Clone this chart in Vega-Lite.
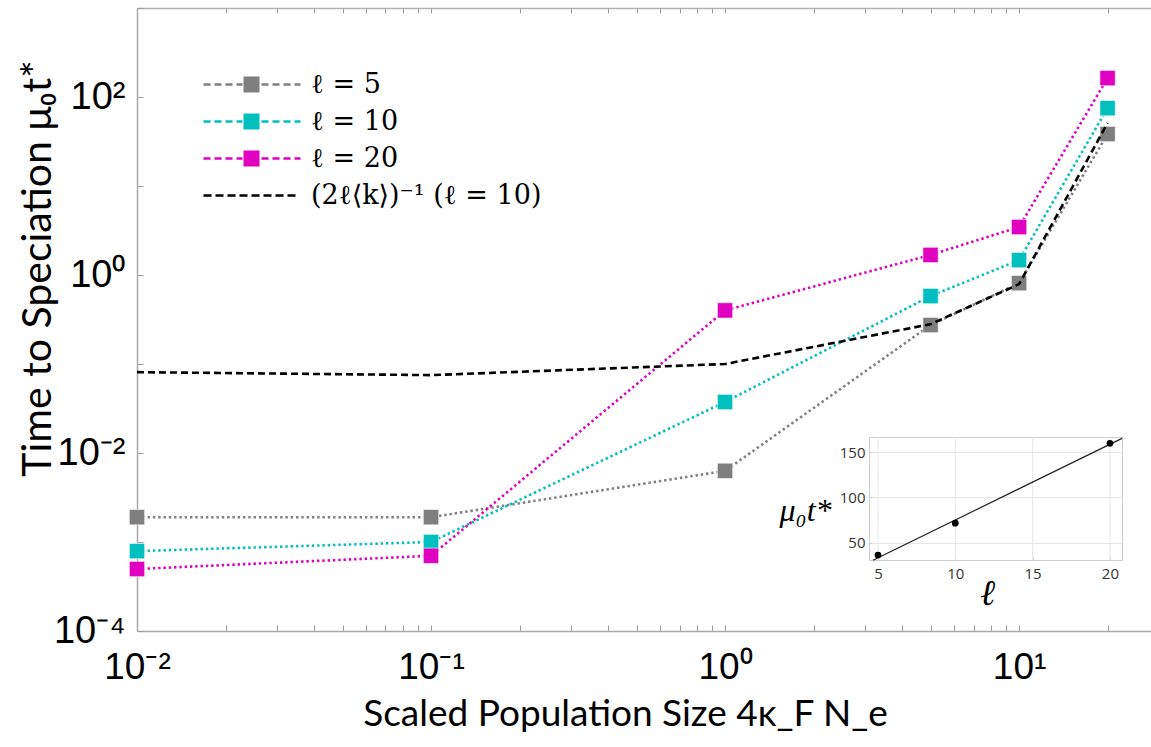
{
  "$schema": "https://vega.github.io/schema/vega-lite/v6.json",
  "width": 1014,
  "height": 623,
  "autosize": {"type": "none"},
  "padding": {"left": 137, "top": 8, "right": 0, "bottom": 116},
  "background": "white",
  "config": {
    "view": {"stroke": null},
    "axis": {"labelFlush": false, "labelOverlap": false, "grid": false}
  },
  "datasets": {
    "main": [
      {"N": 0.01, "t": 0.0019, "series": "ℓ = 5"},
      {"N": 0.1, "t": 0.0019, "series": "ℓ = 5"},
      {"N": 1, "t": 0.0063, "series": "ℓ = 5"},
      {"N": 5, "t": 0.274, "series": "ℓ = 5"},
      {"N": 10, "t": 0.81, "series": "ℓ = 5"},
      {"N": 20, "t": 38.4, "series": "ℓ = 5"},
      {"N": 0.01, "t": 0.00079, "series": "ℓ = 10"},
      {"N": 0.1, "t": 0.001, "series": "ℓ = 10"},
      {"N": 1, "t": 0.0374, "series": "ℓ = 10"},
      {"N": 5, "t": 0.58, "series": "ℓ = 10"},
      {"N": 10, "t": 1.47, "series": "ℓ = 10"},
      {"N": 20, "t": 75, "series": "ℓ = 10"},
      {"N": 0.01, "t": 0.000497, "series": "ℓ = 20"},
      {"N": 0.1, "t": 0.0007, "series": "ℓ = 20"},
      {"N": 1, "t": 0.4, "series": "ℓ = 20"},
      {"N": 5, "t": 1.68, "series": "ℓ = 20"},
      {"N": 10, "t": 3.46, "series": "ℓ = 20"},
      {"N": 20, "t": 163, "series": "ℓ = 20"}
    ],
    "theory": [
      {"N": 0.01, "t": 0.081, "series": "(2ℓ⟨k⟩)⁻¹ (ℓ = 10)"},
      {"N": 0.1, "t": 0.075, "series": "(2ℓ⟨k⟩)⁻¹ (ℓ = 10)"},
      {"N": 1, "t": 0.1, "series": "(2ℓ⟨k⟩)⁻¹ (ℓ = 10)"},
      {"N": 5, "t": 0.28, "series": "(2ℓ⟨k⟩)⁻¹ (ℓ = 10)"},
      {"N": 10, "t": 0.79, "series": "(2ℓ⟨k⟩)⁻¹ (ℓ = 10)"},
      {"N": 20, "t": 51, "series": "(2ℓ⟨k⟩)⁻¹ (ℓ = 10)"}
    ],
    "inset": [
      {"l": 5, "t": 36.8},
      {"l": 10, "t": 71.8},
      {"l": 20, "t": 159.6}
    ],
    "fit": [
      {"l": 4.68, "t": 31.0},
      {"l": 20.78, "t": 165.0}
    ],
    "insetgrid": [
      {"l": 5}, {"l": 10}, {"l": 15}, {"l": 20}
    ]
  },
  "layer": [
    {
      "layer": [
        {
          "data": {"name": "main"},
          "mark": {"type": "line", "strokeDash": [2.4, 2.9], "strokeWidth": 2.6},
          "encoding": {
            "x": {
              "field": "N", "type": "quantitative",
              "scale": {"type": "log", "domain": [0.01, 28.1], "nice": false},
              "axis": {
                "orient": "bottom",
                "values": [0.01,0.02,0.03,0.04,0.05,0.06,0.07,0.08,0.09,0.1,0.2,0.3,0.4,0.5,0.6,0.7,0.8,0.9,1,2,3,4,5,6,7,8,9,10,20],
                "labelExpr": "datum.value == 0.01 ? '10⁻²' : datum.value == 0.1 ? '10⁻¹' : datum.value == 1 ? '10⁰' : datum.value == 10 ? '10¹' : ''",
                "tickSize": -6, "tickColor": "#9a9a9a", "tickWidth": 1,
                "domainColor": "#a8a8a8", "domainWidth": 1.5,
                "labelFont": "Liberation Sans Narrow, Liberation Sans", "labelFontSize": 37, "labelColor": "black",
                "labelPadding": 24,
                "title": "Scaled Population Size 4κ_F N_e",
                "titleFont": "Lato", "titleFontSize": 37, "titleFontWeight": "normal", "titleColor": "black",
                "titleX": 488, "titleY": 83, "titleBaseline": "middle", "titleAlign": "center"
              }
            },
            "y": {
              "field": "t", "type": "quantitative",
              "scale": {"type": "log", "domain": [0.0001, 1000], "nice": false},
              "axis": {
                "orient": "left",
                "values": [0.0001, 0.001, 0.01, 0.1, 1, 10, 100, 1000],
                "labelExpr": "datum.value == 100 ? '10²' : datum.value == 1 ? '10⁰' : datum.value == 0.01 ? '10⁻²' : datum.value == 0.0001 ? '10⁻⁴' : ''",
                "tickSize": -6, "tickColor": "#9a9a9a",
                "domainColor": "#a8a8a8", "domainWidth": 1.5,
                "labelFont": "Liberation Sans", "labelFontSize": 38, "labelColor": "black",
                "labelPadding": 18,
                "title": "Time to Speciation   μ₀t*",
                "titleFont": "Lato", "titleFontSize": 41, "titleFontWeight": "normal", "titleColor": "black",
                "titleX": -99, "titleY": 260, "titleAngle": -90, "titleBaseline": "middle", "titleAlign": "center"
              }
            },
            "color": {
              "field": "series", "type": "nominal",
              "scale": {
                "domain": ["ℓ = 5", "ℓ = 10", "ℓ = 20", "(2ℓ⟨k⟩)⁻¹ (ℓ = 10)"],
                "range": ["#7f7f7f", "#00bfbf", "#e000c0", "#000000"]
              },
              "legend": {
                "orient": "none", "legendX": 53, "legendY": 63,
                "title": null, "padding": 0,
                "symbolType": "M0,-1.3h7v2.6h-7z M11,-1.3h7v2.6h-7z M22,-1.3h7v2.6h-7z M33,-1.3h6v2.6h-6z M40,-8h16v16h-16z M58,-1.3h7v2.6h-7z M69,-1.3h7v2.6h-7z M80,-1.3h7v2.6h-7z M91,-1.3h6v2.6h-6z",
                "symbolSize": 4, "symbolStrokeWidth": 0, "symbolOpacity": 1,
                "labelFont": "DejaVu Serif", "labelFontSize": 27, "labelColor": "black",
                "labelOffset": 94, "rowPadding": 9, "labelLimit": 400,
                "encode": {
                  "symbols": {
                    "update": {
                      "shape": [
                        {"test": "datum.value === '(2ℓ⟨k⟩)⁻¹ (ℓ = 10)'", "value": "M0,-1.3h8v2.6h-8z M12,-1.3h8v2.6h-8z M24,-1.3h8v2.6h-8z M36,-1.3h8v2.6h-8z M48,-1.3h8v2.6h-8z M60,-1.3h8v2.6h-8z M72,-1.3h8v2.6h-8z M84,-1.3h8v2.6h-8z"},
                        {"value": "M0,-1.3h7v2.6h-7z M11,-1.3h7v2.6h-7z M22,-1.3h7v2.6h-7z M33,-1.3h6v2.6h-6z M40,-8h16v16h-16z M58,-1.3h7v2.6h-7z M69,-1.3h7v2.6h-7z M80,-1.3h7v2.6h-7z M91,-1.3h6v2.6h-6z"}
                      ],
                      "fill": [
                        {"test": "datum.value === 'ℓ = 10'", "value": "#00b0f0"},
                        {"test": "datum.value === 'ℓ = 5'", "value": "#808080"},
                        {"test": "datum.value === 'ℓ = 20'", "value": "#e600b4"},
                        {"value": "#000000"}
                      ],
                      "stroke": {"value": "transparent"},
                      "opacity": {"value": 1},
                      "fillOpacity": {"value": 1}
                    }
                  }
                }
              }
            }
          }
        },
        {
          "data": {"name": "main"},
          "mark": {"type": "point", "shape": "square", "filled": true, "size": 235, "opacity": 1, "stroke": "white", "strokeWidth": 0.6},
          "encoding": {
            "x": {"field": "N", "type": "quantitative", "axis": null},
            "y": {"field": "t", "type": "quantitative"},
            "color": {"field": "series", "type": "nominal"}
          }
        },
        {
          "data": {"name": "theory"},
          "mark": {"type": "line", "strokeDash": [7, 4], "strokeWidth": 2.6},
          "encoding": {
            "x": {
              "field": "N", "type": "quantitative",
              "axis": {
                "orient": "top",
                "values": [0.01,0.02,0.03,0.04,0.05,0.06,0.07,0.08,0.09,0.1,0.2,0.3,0.4,0.5,0.6,0.7,0.8,0.9,1,2,3,4,5,6,7,8,9,10,20],
                "labels": false, "tickSize": -5, "tickColor": "#9a9a9a",
                "domainColor": "#b0b0b0", "domainWidth": 1.5, "title": null
              }
            },
            "y": {"field": "t", "type": "quantitative"},
            "color": {"field": "series", "type": "nominal"}
          }
        }
      ],
      "resolve": {"axis": {"x": "independent"}}
    },
    {
      "layer": [
        {
          "data": {"name": "insetgrid"},
          "mark": {"type": "rule", "color": "#e8e8e8", "strokeWidth": 1},
          "encoding": {
            "x": {
              "field": "l", "type": "quantitative",
              "scale": {"domain": [4.42, 20.78], "range": [732, 985], "nice": false, "zero": false},
              "axis": {
                "orient": "bottom", "offset": -71,
                "values": [5, 10, 15, 20],
                "grid": false,
                "tickSize": -3, "tickColor": "#cccccc",
                "domainColor": "#cfcfcf",
                "labelFont": "Open Sans", "labelFontSize": 15, "labelColor": "#333333", "labelPadding": 9,
                "title": "ℓ", "titleFont": "Liberation Serif", "titleFontStyle": "italic", "titleFontSize": 36,
                "titleFontWeight": "normal", "titleColor": "black",
                "titleX": 850, "titleY": 33, "titleBaseline": "middle", "titleAlign": "center"
              }
            },
            "y": {
              "datum": 31.3, "type": "quantitative",
              "scale": {"domain": [31.3, 166.5], "range": [552, 429], "nice": false, "zero": false},
              "axis": {
                "orient": "left", "offset": -732,
                "values": [50, 100, 150],
                "grid": true, "gridColor": "#e6e6e6",
                "tickSize": -3, "tickColor": "#cccccc",
                "domainColor": "#cfcfcf",
                "labelFont": "Open Sans", "labelFontSize": 15, "labelColor": "#333333", "labelPadding": 7,
                "title": "μ₀t*", "titleFont": "Liberation Serif", "titleFontStyle": "italic", "titleFontSize": 32,
                "titleFontWeight": "normal", "titleColor": "black", "titleAngle": 0,
                "titleX": -64, "titleY": 502, "titleBaseline": "middle", "titleAlign": "center"
              }
            },
            "y2": {"datum": 166.5}
          }
        },
        {
          "data": {"name": "fit"},
          "mark": {"type": "line", "color": "#222222", "strokeWidth": 1.2},
          "encoding": {
            "x": {"field": "l", "type": "quantitative", "axis": null},
            "y": {"field": "t", "type": "quantitative", "axis": null}
          }
        },
        {
          "data": {"name": "inset"},
          "mark": {"type": "point", "shape": "circle", "filled": true, "size": 45, "color": "black", "opacity": 1},
          "encoding": {
            "x": {
              "field": "l", "type": "quantitative",
              "axis": {"orient": "top", "offset": -429, "labels": false, "ticks": false, "grid": false, "domainColor": "#cfcfcf", "title": null}
            },
            "y": {
              "field": "t", "type": "quantitative",
              "axis": {"orient": "right", "offset": -29, "labels": false, "ticks": false, "grid": false, "domainColor": "#cfcfcf", "title": null}
            }
          }
        }
      ],
      "resolve": {"axis": {"x": "independent", "y": "independent"}}
    }
  ],
  "resolve": {"scale": {"x": "independent", "y": "independent"}}
}
